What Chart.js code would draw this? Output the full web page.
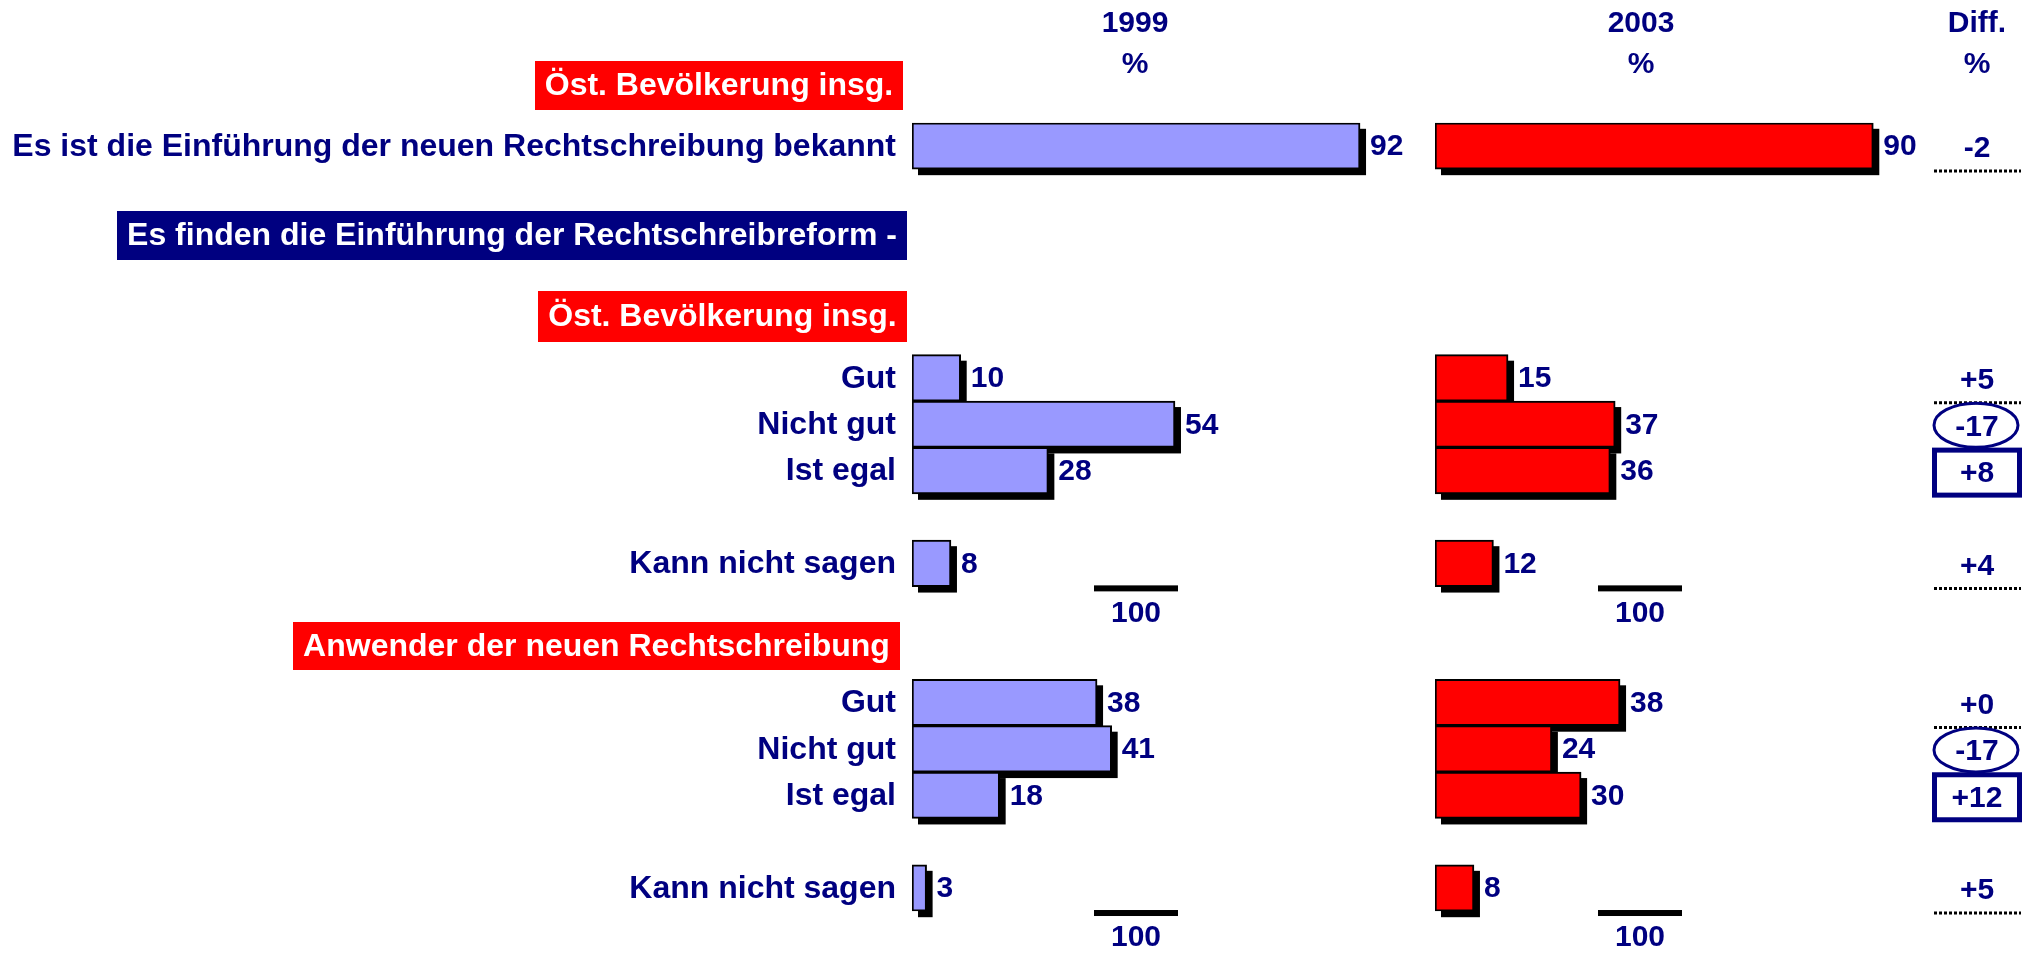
<!DOCTYPE html>
<html lang="de">
<head>
<meta charset="utf-8">
<title>Neue Rechtschreibung 1999 / 2003</title>
<script src="https://cdn.jsdelivr.net/npm/chart.js@4/dist/chart.umd.min.js"></script>
<style>
  html, body { margin: 0; padding: 0; background: #fff; }
  #wrap { position: relative; width: 2031px; height: 954px; overflow: hidden; }
  #wrap canvas { position: absolute; left: 0; top: 0; }
</style>
</head>
<body>
<div id="wrap">
  <canvas id="chart1999" width="2031" height="954"></canvas>
  <canvas id="chart2003" width="2031" height="954"></canvas>
</div>
<script>
// Zeilen der Grafik (leere Einträge = Abstand zwischen den Blöcken)
const rowLabels = [
  'Es ist die Einführung der neuen Rechtschreibung bekannt',
  '', '', '', '',
  'Gut', 'Nicht gut', 'Ist egal', '', 'Kann nicht sagen',
  '', '',
  'Gut', 'Nicht gut', 'Ist egal', '', 'Kann nicht sagen'
];
const values1999 = [92, null, null, null, null, 10, 54, 28, null, 8, null, null, 38, 41, 18, null, 3];
const values2003 = [90, null, null, null, null, 15, 37, 36, null, 12, null, null, 38, 24, 30, null, 8];
const diffLabels = ['-2', null, null, null, null, '+5', '-17', '+8', null, '+4', null, null, '+0', '-17', '+12', null, '+5'];

const columnTitles = ['1999', '2003', 'Diff.'];
const unitLabel = '%';
const totalLabel = '100';
const sectionTitles = [
  'Öst. Bevölkerung insg.',
  'Es finden die Einführung der Rechtschreibreform -',
  'Öst. Bevölkerung insg.',
  'Anwender der neuen Rechtschreibung'
];

// Layout
const NAVY = '#000080';
const FONT = 'bold 32px "Liberation Sans", Arial, sans-serif';
const VALUE_FONT = 'bold 30px "Liberation Sans", Arial, sans-serif';
const W = 2031, H = 954;
const SCALE_W = 487;           // Breite für 100 %
const PLOT_TOP = 122.8, PLOT_BOTTOM = 911.2;
const LEFT_1999 = 912, LEFT_2003 = 1435;
const titleX = [1135, 1641, 1977];
const sectionBoxes = [
  { x: 535, y: 61, w: 368, h: 49, bg: '#ff0000' },
  { x: 117, y: 211, w: 790, h: 49, bg: NAVY },
  { x: 538, y: 291, w: 369, h: 51, bg: '#ff0000' },
  { x: 293, y: 622, w: 607, h: 48, bg: '#ff0000' }
];
const diffMarks = { 6: 'ellipse', 7: 'box', 13: 'ellipse', 14: 'box' };
const DIFF_X = 1977;

function textAt(ctx, txt, x, y, align, font, color) {
  ctx.font = font || FONT;
  ctx.fillStyle = color || NAVY;
  ctx.textAlign = align || 'center';
  ctx.textBaseline = 'middle';
  ctx.fillText(txt, x, y);
}

// Schatten hinter den Balken
const barShadow = {
  id: 'barShadow',
  beforeDatasetsDraw(chart) {
    const ctx = chart.ctx;
    const meta = chart.getDatasetMeta(0);
    ctx.save();
    ctx.fillStyle = '#000';
    meta.data.forEach((el, i) => {
      if (chart.data.datasets[0].data[i] == null) return;
      const p = el.getProps(['x', 'y', 'base', 'height'], true);
      ctx.fillRect(p.base + 6, p.y - p.height / 2 + 6, p.x - p.base, p.height);
    });
    ctx.restore();
  }
};

// Werte neben den Balken + Summenstrich "100"
function barValues(lineOffset, textOffset) {
  return {
    id: 'barValues',
    afterDatasetsDraw(chart) {
      const ctx = chart.ctx;
      const meta = chart.getDatasetMeta(0);
      const yScale = chart.scales.y;
      const area = chart.chartArea;
      ctx.save();
      meta.data.forEach((el, i) => {
        const v = chart.data.datasets[0].data[i];
        if (v == null) return;
        const p = el.getProps(['x', 'y'], true);
        textAt(ctx, String(v), p.x + 10, p.y + 1, 'left', VALUE_FONT);
      });
      rowLabels.forEach((lab, i) => {
        if (lab !== 'Kann nicht sagen') return;
        const y = yScale.getPixelForValue(i);
        ctx.fillStyle = '#000';
        ctx.fillRect(area.left + lineOffset, y + 22, 84, 6);
        textAt(ctx, totalLabel, area.left + textOffset, y + 50, 'center', VALUE_FONT);
      });
      ctx.restore();
    }
  };
}

// Beschriftungen links, Spaltenköpfe, farbige Überschriften
const frameText = {
  id: 'frameText',
  afterDraw(chart) {
    const ctx = chart.ctx;
    const yScale = chart.scales.y;
    ctx.save();
    columnTitles.forEach((t, i) => {
      textAt(ctx, t, titleX[i], 24, 'center', VALUE_FONT);
      textAt(ctx, unitLabel, titleX[i], 65, 'center', VALUE_FONT);
    });
    sectionBoxes.forEach((b, i) => {
      ctx.fillStyle = b.bg;
      ctx.fillRect(b.x, b.y, b.w, b.h);
      textAt(ctx, sectionTitles[i], b.x + b.w / 2, b.y + b.h / 2 + 1, 'center', FONT, '#fff');
    });
    rowLabels.forEach((lab, i) => {
      if (!lab) return;
      textAt(ctx, lab, 896, yScale.getPixelForValue(i) + 1, 'right');
    });
    ctx.restore();
  }
};

// Differenzspalte
const diffColumn = {
  id: 'diffColumn',
  afterDraw(chart) {
    const ctx = chart.ctx;
    const yScale = chart.scales.y;
    ctx.save();
    diffLabels.forEach((d, i) => {
      if (d == null) return;
      const y = yScale.getPixelForValue(i);
      const mark = diffMarks[i];
      if (mark === 'ellipse') {
        ctx.strokeStyle = NAVY;
        ctx.lineWidth = 3;
        ctx.beginPath();
        ctx.ellipse(DIFF_X - 1, y + 1, 42, 22, 0, 0, Math.PI * 2);
        ctx.stroke();
      } else if (mark === 'box') {
        ctx.strokeStyle = NAVY;
        ctx.lineWidth = 5;
        ctx.strokeRect(1934.5, y - 20.5, 85, 45);
      } else {
        ctx.strokeStyle = '#000';
        ctx.lineWidth = 3;
        ctx.setLineDash([3, 2]);
        ctx.beginPath();
        ctx.moveTo(1934, y + 25);
        ctx.lineTo(2021, y + 25);
        ctx.stroke();
        ctx.setLineDash([]);
      }
      textAt(ctx, d, DIFF_X, y + 3, 'center', VALUE_FONT);
    });
    ctx.restore();
  }
};

function makeChart(id, values, color, left, extra) {
  return new Chart(document.getElementById(id), {
    type: 'bar',
    data: {
      labels: rowLabels,
      datasets: [{
        data: values,
        backgroundColor: color,
        borderColor: '#000',
        borderWidth: 2,
        borderSkipped: false,
        barPercentage: 1,
        categoryPercentage: 1
      }]
    },
    options: {
      indexAxis: 'y',
      responsive: false,
      animation: false,
      devicePixelRatio: 1,
      layout: {
        padding: { left: left, right: W - left - SCALE_W, top: PLOT_TOP, bottom: H - PLOT_BOTTOM }
      },
      scales: {
        x: { min: 0, max: 100, display: false },
        y: { display: false, offset: true }
      },
      plugins: { legend: { display: false }, tooltip: { enabled: false } }
    },
    plugins: [barShadow].concat(extra)
  });
}

makeChart('chart1999', values1999, '#9999ff', LEFT_1999, [barValues(182, 224), frameText]);
makeChart('chart2003', values2003, '#ff0000', LEFT_2003, [barValues(163, 205), diffColumn]);
</script>
</body>
</html>
